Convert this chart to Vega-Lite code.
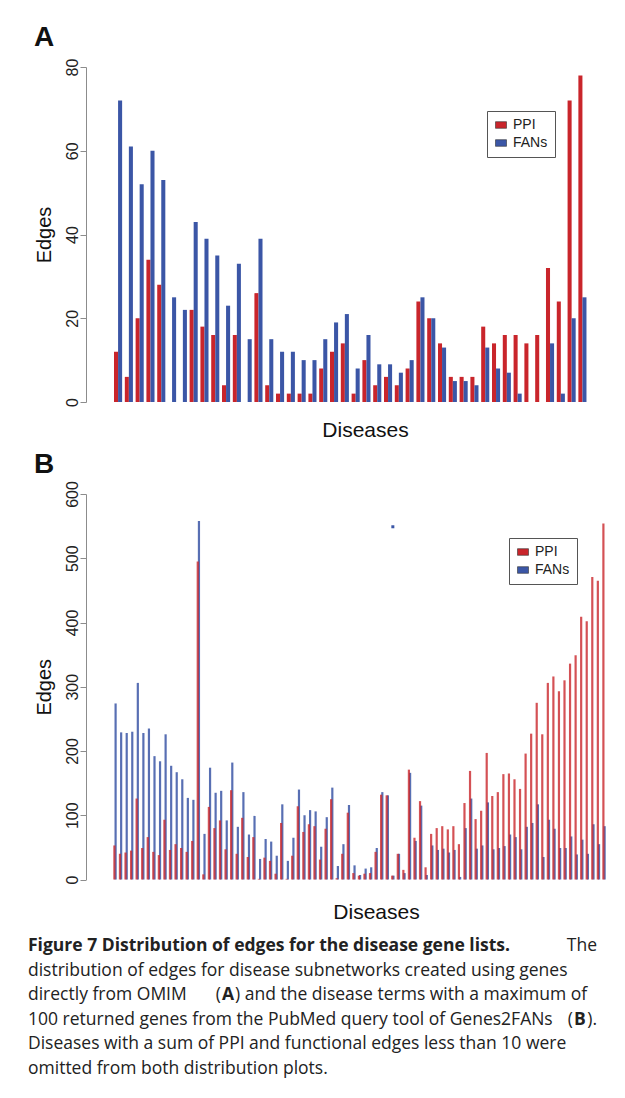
{
  "$schema": "https://vega.github.io/schema/vega-lite/v6.json",
  "background": "white",
  "padding": {"left": 28, "top": 24, "right": 0, "bottom": 0},
  "spacing": 11,
  "config": {
    "font": "Liberation Sans",
    "view": {"stroke": null},
    "axisY": {
      "grid": false, "tickSize": 6, "labelAngle": 270, "labelFontSize": 16, "labelPadding": 0,
      "labelColor": "#222222", "domainColor": "#8c8c8c", "tickColor": "#8c8c8c",
      "titleFontSize": 20, "titleFontWeight": "normal", "titleColor": "#111111", "titlePadding": 10,
      "labelFlush": false, "labelOverlap": false, "offset": 25
    },
    "axisX": {
      "labels": false, "ticks": false, "domain": false, "grid": false,
      "titleFontSize": 21, "titleFontWeight": "normal", "titleColor": "#111111"
    },
    "legend": {
      "orient": "none", "strokeColor": "#555555", "padding": 7, "fillColor": "white",
      "symbolType": "M-1,-0.6H1V0.6H-1Z", "symbolSize": 121, "symbolStrokeColor": "#333333",
      "symbolStrokeWidth": 0.6, "symbolOpacity": 1, "labelFontSize": 14, "labelColor": "#222222",
      "labelFont": "Liberation Sans", "rowPadding": 4, "labelOffset": 5
    },
    "title": {"anchor": "start", "frame": "bounds", "fontSize": 28, "fontWeight": "bold", "color": "#111111"}
  },
  "datasets": {
    "A": [
      {"disease":1,"series":"PPI","edges":12},{"disease":1,"series":"FANs","edges":72},
      {"disease":2,"series":"PPI","edges":6},{"disease":2,"series":"FANs","edges":61},
      {"disease":3,"series":"PPI","edges":20},{"disease":3,"series":"FANs","edges":52},
      {"disease":4,"series":"PPI","edges":34},{"disease":4,"series":"FANs","edges":60},
      {"disease":5,"series":"PPI","edges":28},{"disease":5,"series":"FANs","edges":53},
      {"disease":6,"series":"PPI","edges":0},{"disease":6,"series":"FANs","edges":25},
      {"disease":7,"series":"PPI","edges":0},{"disease":7,"series":"FANs","edges":22},
      {"disease":8,"series":"PPI","edges":22},{"disease":8,"series":"FANs","edges":43},
      {"disease":9,"series":"PPI","edges":18},{"disease":9,"series":"FANs","edges":39},
      {"disease":10,"series":"PPI","edges":16},{"disease":10,"series":"FANs","edges":35},
      {"disease":11,"series":"PPI","edges":4},{"disease":11,"series":"FANs","edges":23},
      {"disease":12,"series":"PPI","edges":16},{"disease":12,"series":"FANs","edges":33},
      {"disease":13,"series":"PPI","edges":0},{"disease":13,"series":"FANs","edges":15},
      {"disease":14,"series":"PPI","edges":26},{"disease":14,"series":"FANs","edges":39},
      {"disease":15,"series":"PPI","edges":4},{"disease":15,"series":"FANs","edges":15},
      {"disease":16,"series":"PPI","edges":2},{"disease":16,"series":"FANs","edges":12},
      {"disease":17,"series":"PPI","edges":2},{"disease":17,"series":"FANs","edges":12},
      {"disease":18,"series":"PPI","edges":2},{"disease":18,"series":"FANs","edges":10},
      {"disease":19,"series":"PPI","edges":2},{"disease":19,"series":"FANs","edges":10},
      {"disease":20,"series":"PPI","edges":8},{"disease":20,"series":"FANs","edges":15},
      {"disease":21,"series":"PPI","edges":12},{"disease":21,"series":"FANs","edges":19},
      {"disease":22,"series":"PPI","edges":14},{"disease":22,"series":"FANs","edges":21},
      {"disease":23,"series":"PPI","edges":2},{"disease":23,"series":"FANs","edges":8},
      {"disease":24,"series":"PPI","edges":10},{"disease":24,"series":"FANs","edges":16},
      {"disease":25,"series":"PPI","edges":4},{"disease":25,"series":"FANs","edges":9},
      {"disease":26,"series":"PPI","edges":6},{"disease":26,"series":"FANs","edges":9},
      {"disease":27,"series":"PPI","edges":4},{"disease":27,"series":"FANs","edges":7},
      {"disease":28,"series":"PPI","edges":8},{"disease":28,"series":"FANs","edges":10},
      {"disease":29,"series":"PPI","edges":24},{"disease":29,"series":"FANs","edges":25},
      {"disease":30,"series":"PPI","edges":20},{"disease":30,"series":"FANs","edges":20},
      {"disease":31,"series":"PPI","edges":14},{"disease":31,"series":"FANs","edges":13},
      {"disease":32,"series":"PPI","edges":6},{"disease":32,"series":"FANs","edges":5},
      {"disease":33,"series":"PPI","edges":6},{"disease":33,"series":"FANs","edges":5},
      {"disease":34,"series":"PPI","edges":6},{"disease":34,"series":"FANs","edges":4},
      {"disease":35,"series":"PPI","edges":18},{"disease":35,"series":"FANs","edges":13},
      {"disease":36,"series":"PPI","edges":14},{"disease":36,"series":"FANs","edges":8},
      {"disease":37,"series":"PPI","edges":16},{"disease":37,"series":"FANs","edges":7},
      {"disease":38,"series":"PPI","edges":16},{"disease":38,"series":"FANs","edges":2},
      {"disease":39,"series":"PPI","edges":14},{"disease":39,"series":"FANs","edges":0},
      {"disease":40,"series":"PPI","edges":16},{"disease":40,"series":"FANs","edges":0},
      {"disease":41,"series":"PPI","edges":32},{"disease":41,"series":"FANs","edges":14},
      {"disease":42,"series":"PPI","edges":24},{"disease":42,"series":"FANs","edges":2},
      {"disease":43,"series":"PPI","edges":72},{"disease":43,"series":"FANs","edges":20},
      {"disease":44,"series":"PPI","edges":78},{"disease":44,"series":"FANs","edges":25}
    ],
    "B": [
      {"disease":1,"series":"PPI","edges":53},{"disease":1,"series":"FANs","edges":274},
      {"disease":2,"series":"PPI","edges":40},{"disease":2,"series":"FANs","edges":229},
      {"disease":3,"series":"PPI","edges":42},{"disease":3,"series":"FANs","edges":228},
      {"disease":4,"series":"PPI","edges":45},{"disease":4,"series":"FANs","edges":230},
      {"disease":5,"series":"PPI","edges":126},{"disease":5,"series":"FANs","edges":306},
      {"disease":6,"series":"PPI","edges":49},{"disease":6,"series":"FANs","edges":228},
      {"disease":7,"series":"PPI","edges":66},{"disease":7,"series":"FANs","edges":235},
      {"disease":8,"series":"PPI","edges":43},{"disease":8,"series":"FANs","edges":192},
      {"disease":9,"series":"PPI","edges":38},{"disease":9,"series":"FANs","edges":184},
      {"disease":10,"series":"PPI","edges":93},{"disease":10,"series":"FANs","edges":226},
      {"disease":11,"series":"PPI","edges":46},{"disease":11,"series":"FANs","edges":177},
      {"disease":12,"series":"PPI","edges":55},{"disease":12,"series":"FANs","edges":167},
      {"disease":13,"series":"PPI","edges":49},{"disease":13,"series":"FANs","edges":156},
      {"disease":14,"series":"PPI","edges":43},{"disease":14,"series":"FANs","edges":127},
      {"disease":15,"series":"PPI","edges":60},{"disease":15,"series":"FANs","edges":124},
      {"disease":16,"series":"PPI","edges":495},{"disease":16,"series":"FANs","edges":558},
      {"disease":17,"series":"PPI","edges":8},{"disease":17,"series":"FANs","edges":71},
      {"disease":18,"series":"PPI","edges":113},{"disease":18,"series":"FANs","edges":174},
      {"disease":19,"series":"PPI","edges":80},{"disease":19,"series":"FANs","edges":135},
      {"disease":20,"series":"PPI","edges":92},{"disease":20,"series":"FANs","edges":138},
      {"disease":21,"series":"PPI","edges":47},{"disease":21,"series":"FANs","edges":92},
      {"disease":22,"series":"PPI","edges":139},{"disease":22,"series":"FANs","edges":182},
      {"disease":23,"series":"PPI","edges":40},{"disease":23,"series":"FANs","edges":82},
      {"disease":24,"series":"PPI","edges":96},{"disease":24,"series":"FANs","edges":136},
      {"disease":25,"series":"PPI","edges":35},{"disease":25,"series":"FANs","edges":70},
      {"disease":26,"series":"PPI","edges":66},{"disease":26,"series":"FANs","edges":99},
      {"disease":27,"series":"PPI","edges":1},{"disease":27,"series":"FANs","edges":32},
      {"disease":28,"series":"PPI","edges":34},{"disease":28,"series":"FANs","edges":63},
      {"disease":29,"series":"PPI","edges":29},{"disease":29,"series":"FANs","edges":59},
      {"disease":30,"series":"PPI","edges":9},{"disease":30,"series":"FANs","edges":37},
      {"disease":31,"series":"PPI","edges":88},{"disease":31,"series":"FANs","edges":117},
      {"disease":32,"series":"PPI","edges":1},{"disease":32,"series":"FANs","edges":29},
      {"disease":33,"series":"PPI","edges":37},{"disease":33,"series":"FANs","edges":65},
      {"disease":34,"series":"PPI","edges":114},{"disease":34,"series":"FANs","edges":140},
      {"disease":35,"series":"PPI","edges":74},{"disease":35,"series":"FANs","edges":100},
      {"disease":36,"series":"PPI","edges":86},{"disease":36,"series":"FANs","edges":108},
      {"disease":37,"series":"PPI","edges":83},{"disease":37,"series":"FANs","edges":106},
      {"disease":38,"series":"PPI","edges":31},{"disease":38,"series":"FANs","edges":51},
      {"disease":39,"series":"PPI","edges":79},{"disease":39,"series":"FANs","edges":97},
      {"disease":40,"series":"PPI","edges":125},{"disease":40,"series":"FANs","edges":143},
      {"disease":41,"series":"PPI","edges":2},{"disease":41,"series":"FANs","edges":21},
      {"disease":42,"series":"PPI","edges":40},{"disease":42,"series":"FANs","edges":55},
      {"disease":43,"series":"PPI","edges":104},{"disease":43,"series":"FANs","edges":116},
      {"disease":44,"series":"PPI","edges":10},{"disease":44,"series":"FANs","edges":22},
      {"disease":45,"series":"PPI","edges":6},{"disease":45,"series":"FANs","edges":7},
      {"disease":46,"series":"PPI","edges":9},{"disease":46,"series":"FANs","edges":17},
      {"disease":47,"series":"PPI","edges":10},{"disease":47,"series":"FANs","edges":19},
      {"disease":48,"series":"PPI","edges":43},{"disease":48,"series":"FANs","edges":49},
      {"disease":49,"series":"PPI","edges":132},{"disease":49,"series":"FANs","edges":136},
      {"disease":50,"series":"PPI","edges":131},{"disease":50,"series":"FANs","edges":131},
      {"disease":51,"series":"PPI","edges":6},{"disease":51,"series":"FANs","edges":6},
      {"disease":52,"series":"PPI","edges":40},{"disease":52,"series":"FANs","edges":40},
      {"disease":53,"series":"PPI","edges":15},{"disease":53,"series":"FANs","edges":10},
      {"disease":54,"series":"PPI","edges":171},{"disease":54,"series":"FANs","edges":166},
      {"disease":55,"series":"PPI","edges":65},{"disease":55,"series":"FANs","edges":60},
      {"disease":56,"series":"PPI","edges":122},{"disease":56,"series":"FANs","edges":115},
      {"disease":57,"series":"PPI","edges":19},{"disease":57,"series":"FANs","edges":7},
      {"disease":58,"series":"PPI","edges":71},{"disease":58,"series":"FANs","edges":53},
      {"disease":59,"series":"PPI","edges":80},{"disease":59,"series":"FANs","edges":46},
      {"disease":60,"series":"PPI","edges":83},{"disease":60,"series":"FANs","edges":48},
      {"disease":61,"series":"PPI","edges":78},{"disease":61,"series":"FANs","edges":42},
      {"disease":62,"series":"PPI","edges":83},{"disease":62,"series":"FANs","edges":46},
      {"disease":63,"series":"PPI","edges":55},{"disease":63,"series":"FANs","edges":4},
      {"disease":64,"series":"PPI","edges":119},{"disease":64,"series":"FANs","edges":80},
      {"disease":65,"series":"PPI","edges":169},{"disease":65,"series":"FANs","edges":126},
      {"disease":66,"series":"PPI","edges":94},{"disease":66,"series":"FANs","edges":48},
      {"disease":67,"series":"PPI","edges":107},{"disease":67,"series":"FANs","edges":53},
      {"disease":68,"series":"PPI","edges":197},{"disease":68,"series":"FANs","edges":120},
      {"disease":69,"series":"PPI","edges":130},{"disease":69,"series":"FANs","edges":47},
      {"disease":70,"series":"PPI","edges":136},{"disease":70,"series":"FANs","edges":49},
      {"disease":71,"series":"PPI","edges":164},{"disease":71,"series":"FANs","edges":52},
      {"disease":72,"series":"PPI","edges":165},{"disease":72,"series":"FANs","edges":70},
      {"disease":73,"series":"PPI","edges":156},{"disease":73,"series":"FANs","edges":66},
      {"disease":74,"series":"PPI","edges":141},{"disease":74,"series":"FANs","edges":47},
      {"disease":75,"series":"PPI","edges":196},{"disease":75,"series":"FANs","edges":82},
      {"disease":76,"series":"PPI","edges":227},{"disease":76,"series":"FANs","edges":88},
      {"disease":77,"series":"PPI","edges":275},{"disease":77,"series":"FANs","edges":117},
      {"disease":78,"series":"PPI","edges":226},{"disease":78,"series":"FANs","edges":35},
      {"disease":79,"series":"PPI","edges":306},{"disease":79,"series":"FANs","edges":93},
      {"disease":80,"series":"PPI","edges":316},{"disease":80,"series":"FANs","edges":79},
      {"disease":81,"series":"PPI","edges":293},{"disease":81,"series":"FANs","edges":49},
      {"disease":82,"series":"PPI","edges":310},{"disease":82,"series":"FANs","edges":49},
      {"disease":83,"series":"PPI","edges":336},{"disease":83,"series":"FANs","edges":67},
      {"disease":84,"series":"PPI","edges":349},{"disease":84,"series":"FANs","edges":39},
      {"disease":85,"series":"PPI","edges":409},{"disease":85,"series":"FANs","edges":62},
      {"disease":86,"series":"PPI","edges":402},{"disease":86,"series":"FANs","edges":40},
      {"disease":87,"series":"PPI","edges":471},{"disease":87,"series":"FANs","edges":86},
      {"disease":88,"series":"PPI","edges":465},{"disease":88,"series":"FANs","edges":55},
      {"disease":89,"series":"PPI","edges":554},{"disease":89,"series":"FANs","edges":83}
    ],
    "dot": [{"disease":51,"series":"FANs","edges":549}],
    "caption": [
      {"line":1,"part":"bold","text":"Figure 7 Distribution of edges for the disease gene lists."},
      {"line":1,"part":"right","text":"The"},
      {"line":2,"part":"left","text":"distribution of edges for disease subnetworks created using genes"},
      {"line":3,"part":"left","text":"directly from OMIM"},
      {"line":3,"part":"parenA","text":"("},
      {"line":3,"part":"boldA","text":"A"},
      {"line":3,"part":"afterA","text":") and the disease terms with a maximum of"},
      {"line":4,"part":"left","text":"100 returned genes from the PubMed query tool of Genes2FANs"},
      {"line":4,"part":"parenB","text":"("},
      {"line":4,"part":"boldB","text":"B"},
      {"line":4,"part":"right","text":")."},
      {"line":5,"part":"left","text":"Diseases with a sum of PPI and functional edges less than 10 were"},
      {"line":6,"part":"left","text":"omitted from both distribution plots."}
    ]
  },
  "vconcat": [
    {
      "title": {"text": "A", "offset": 6},
      "width": 478.5,
      "height": 335,
      "data": {"name": "A"},
      "mark": {"type": "bar"},
      "encoding": {
        "x": {"field": "disease", "type": "ordinal", "scale": {"paddingInner": 0.25, "paddingOuter": 0.28},
              "axis": {"title": "Diseases", "titlePadding": 17, "titleX": 254}},
        "xOffset": {"field": "series", "type": "nominal", "sort": ["PPI", "FANs"]},
        "y": {"field": "edges", "type": "quantitative", "scale": {"domain": [0, 80], "nice": false},
              "axis": {"title": "Edges", "values": [0, 20, 40, 60, 80]}},
        "color": {"field": "series", "type": "nominal",
                  "scale": {"domain": ["PPI", "FANs"], "range": ["#c9252b", "#3b56a6"]},
                  "legend": {"title": null, "legendX": 376, "legendY": 44}}
      }
    },
    {
      "title": {"text": "B", "offset": 1.5},
      "width": 497,
      "height": 385.5,
      "encoding": {
        "x": {"field": "disease", "type": "ordinal", "scale": {"paddingInner": 0, "paddingOuter": 0.22},
              "axis": {"title": "Diseases", "titlePadding": 22, "titleX": 265}},
        "y": {"field": "edges", "type": "quantitative", "scale": {"domain": [0, 600], "nice": false},
              "axis": {"title": "Edges", "values": [0, 100, 200, 300, 400, 500, 600]}},
        "color": {"field": "series", "type": "nominal",
                  "scale": {"domain": ["PPI", "FANs"], "range": ["#c9252b", "#3b56a6"]},
                  "legend": {"title": null, "legendX": 398, "legendY": 44}}
      },
      "layer": [
        {
          "data": {"name": "B"},
          "transform": [{"filter": "datum.series == 'FANs'"}],
          "mark": {"type": "bar", "width": 2.2, "xOffset": 0.6, "opacity": 0.85}
        },
        {
          "data": {"name": "B"},
          "transform": [{"filter": "datum.series == 'PPI'"}],
          "mark": {"type": "bar", "width": 2.2, "xOffset": -0.6, "opacity": 0.8}
        },
        {
          "data": {"name": "dot"},
          "mark": {"type": "square", "size": 9, "opacity": 1, "filled": true}
        }
      ]
    },
    {
      "width": 486,
      "height": 147,
      "data": {"name": "caption"},
      "encoding": {"y": {"field": "line", "type": "ordinal", "axis": null}},
      "layer": [
        {
          "transform": [{"filter": "datum.part == 'left'"}],
          "mark": {"type": "text", "align": "left", "baseline": "middle", "font": "Open Sans", "fontSize": 17.5, "color": "#222222"},
          "encoding": {"x": {"value": -83}, "text": {"field": "text"}}
        },
        {
          "transform": [{"filter": "datum.part == 'bold'"}],
          "mark": {"type": "text", "align": "left", "baseline": "middle", "font": "Open Sans", "fontSize": 17.5, "fontWeight": "bold", "color": "#222222"},
          "encoding": {"x": {"value": -83}, "text": {"field": "text"}}
        },
        {
          "transform": [{"filter": "datum.part == 'right'"}],
          "mark": {"type": "text", "align": "right", "baseline": "middle", "font": "Open Sans", "fontSize": 17.5, "color": "#222222"},
          "encoding": {"x": {"value": 486}, "text": {"field": "text"}}
        },
        {
          "transform": [{"filter": "datum.part == 'parenA'"}],
          "mark": {"type": "text", "align": "right", "baseline": "middle", "font": "Open Sans", "fontSize": 17.5, "color": "#222222"},
          "encoding": {"x": {"value": 110}, "text": {"field": "text"}}
        },
        {
          "transform": [{"filter": "datum.part == 'boldA'"}],
          "mark": {"type": "text", "align": "left", "baseline": "middle", "font": "Open Sans", "fontSize": 17.5, "fontWeight": "bold", "color": "#222222"},
          "encoding": {"x": {"value": 111}, "text": {"field": "text"}}
        },
        {
          "transform": [{"filter": "datum.part == 'afterA'"}],
          "mark": {"type": "text", "align": "left", "baseline": "middle", "font": "Open Sans", "fontSize": 17.5, "color": "#222222"},
          "encoding": {"x": {"value": 124}, "text": {"field": "text"}}
        },
        {
          "transform": [{"filter": "datum.part == 'parenB'"}],
          "mark": {"type": "text", "align": "right", "baseline": "middle", "font": "Open Sans", "fontSize": 17.5, "color": "#222222"},
          "encoding": {"x": {"value": 462}, "text": {"field": "text"}}
        },
        {
          "transform": [{"filter": "datum.part == 'boldB'"}],
          "mark": {"type": "text", "align": "left", "baseline": "middle", "font": "Open Sans", "fontSize": 17.5, "fontWeight": "bold", "color": "#222222"},
          "encoding": {"x": {"value": 463}, "text": {"field": "text"}}
        }
      ]
    }
  ],
  "resolve": {"scale": {"color": "independent"}, "legend": {"color": "independent"}}
}
